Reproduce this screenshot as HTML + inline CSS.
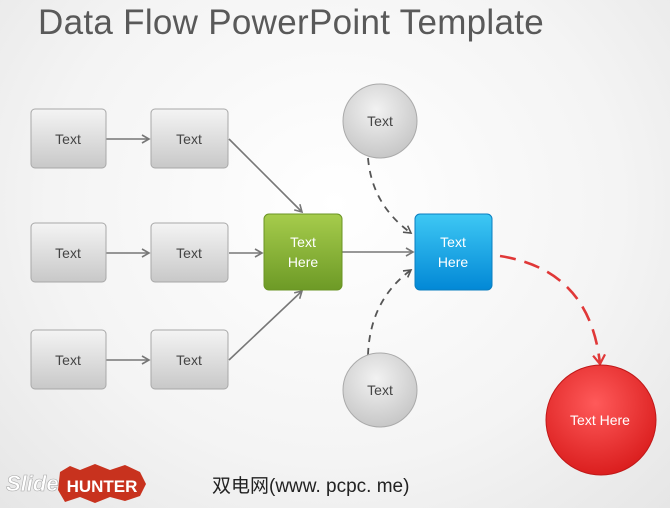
<!DOCTYPE html>
<html><head><style>
body{margin:0;width:670px;height:508px;overflow:hidden;background:radial-gradient(ellipse at 50% 40%,#ffffff 0%,#f4f4f4 60%,#e6e6e6 100%);font-family:"Liberation Sans",sans-serif;}
</style></head><body>
<svg width="670" height="508" viewBox="0 0 670 508" xmlns="http://www.w3.org/2000/svg" style="position:absolute;left:0;top:0">
<defs>
<linearGradient id="g" x1="0" y1="0" x2="0" y2="1"><stop offset="0" stop-color="#f4f4f4"/><stop offset="1" stop-color="#c8c8c8"/></linearGradient>
<linearGradient id="gr" x1="0" y1="0" x2="0" y2="1"><stop offset="0" stop-color="#a6cc4c"/><stop offset="1" stop-color="#6d9a26"/></linearGradient>
<linearGradient id="bl" x1="0" y1="0" x2="0" y2="1"><stop offset="0" stop-color="#3ec8f4"/><stop offset="1" stop-color="#0288d6"/></linearGradient>
<radialGradient id="rc" cx="0.45" cy="0.35" r="0.7"><stop offset="0" stop-color="#ff5a5a"/><stop offset="1" stop-color="#d81a1a"/></radialGradient>
<radialGradient id="gc" cx="0.45" cy="0.35" r="0.7"><stop offset="0" stop-color="#f2f2f2"/><stop offset="1" stop-color="#c4c4c4"/></radialGradient>
<marker id="a" markerWidth="10" markerHeight="10" refX="8" refY="5" orient="auto" markerUnits="userSpaceOnUse"><path d="M1,1 L8,5 L1,9" fill="none" stroke="#777" stroke-width="1.6"/></marker>
<marker id="ad" markerWidth="10" markerHeight="10" refX="8" refY="5" orient="auto" markerUnits="userSpaceOnUse"><path d="M1,1 L8,5 L1,9" fill="none" stroke="#555" stroke-width="1.6"/></marker>
<marker id="ar" markerWidth="14" markerHeight="14" refX="10" refY="7" orient="auto" markerUnits="userSpaceOnUse"><path d="M1,1 L10,7 L1,13" fill="none" stroke="#e03838" stroke-width="2.2"/></marker>
</defs>
<text x="38" y="34" font-size="35" letter-spacing="0.3" fill="#595959">Data Flow PowerPoint Template</text>
<g stroke="#777" stroke-width="1.6" fill="none">
<line x1="106" y1="139" x2="149" y2="139" marker-end="url(#a)"/>
<line x1="106" y1="253" x2="149" y2="253" marker-end="url(#a)"/>
<line x1="106" y1="360" x2="149" y2="360" marker-end="url(#a)"/>
<line x1="229" y1="139" x2="302" y2="212" marker-end="url(#a)"/>
<line x1="229" y1="253" x2="262" y2="253" marker-end="url(#a)"/>
<line x1="229" y1="360" x2="302" y2="291" marker-end="url(#a)"/>
<line x1="342" y1="252" x2="413" y2="252" marker-end="url(#a)"/>
</g>
<g stroke="#555" stroke-width="1.8" fill="none" stroke-dasharray="7,6">
<path d="M368,158 Q372,205 411,233" marker-end="url(#ad)"/>
<path d="M368,355 Q370,300 411,270" marker-end="url(#ad)"/>
</g>
<path d="M500,256 Q590,270 600,364" stroke="#e03838" stroke-width="2.6" fill="none" stroke-dasharray="16,9" marker-end="url(#ar)"/>
<g fill="url(#g)" stroke="#a8a8a8" stroke-width="1">
<rect x="31" y="109" width="75" height="59" rx="4"/>
<rect x="151" y="109" width="77" height="59" rx="4"/>
<rect x="31" y="223" width="75" height="59" rx="4"/>
<rect x="151" y="223" width="77" height="59" rx="4"/>
<rect x="31" y="330" width="75" height="59" rx="4"/>
<rect x="151" y="330" width="77" height="59" rx="4"/>
</g>
<rect x="264" y="214" width="78" height="76" rx="5" fill="url(#gr)" stroke="#6a9424"/>
<rect x="415" y="214" width="77" height="76" rx="5" fill="url(#bl)" stroke="#0a7ec0"/>
<circle cx="380" cy="121" r="37" fill="url(#gc)" stroke="#aaa"/>
<circle cx="380" cy="390" r="37" fill="url(#gc)" stroke="#aaa"/>
<circle cx="601" cy="420" r="55" fill="url(#rc)" stroke="#c01818"/>
<g font-size="14" fill="#444" text-anchor="middle">
<text x="68" y="144">Text</text><text x="189" y="144">Text</text>
<text x="68" y="258">Text</text><text x="189" y="258">Text</text>
<text x="68" y="365">Text</text><text x="189" y="365">Text</text>
<text x="380" y="126">Text</text><text x="380" y="395">Text</text>
</g>
<g font-size="14" fill="#fff" text-anchor="middle">
<text x="303" y="247">Text</text><text x="303" y="267">Here</text>
<text x="453" y="247">Text</text><text x="453" y="267">Here</text>
<text x="600" y="425">Text Here</text>
</g>
<text x="6" y="491" font-size="22" font-style="italic" font-weight="bold" fill="#fff" stroke="#aaa" stroke-width="0.6">Slide</text>
<path d="M60,472 L70,466 L80,470 L95,464 L110,470 L125,465 L140,472 L146,484 L140,496 L125,501 L110,497 L95,503 L80,497 L65,502 L58,490 Z" fill="#c8321e"/>
<text x="102" y="492" font-size="17" font-weight="bold" fill="#fff" text-anchor="middle">HUNTER</text>
<text x="212" y="492" font-size="19" fill="#222" font-family="'Liberation Sans','Noto Sans CJK SC',sans-serif">双电网(www. pcpc. me)</text>
</svg>
</body></html>
